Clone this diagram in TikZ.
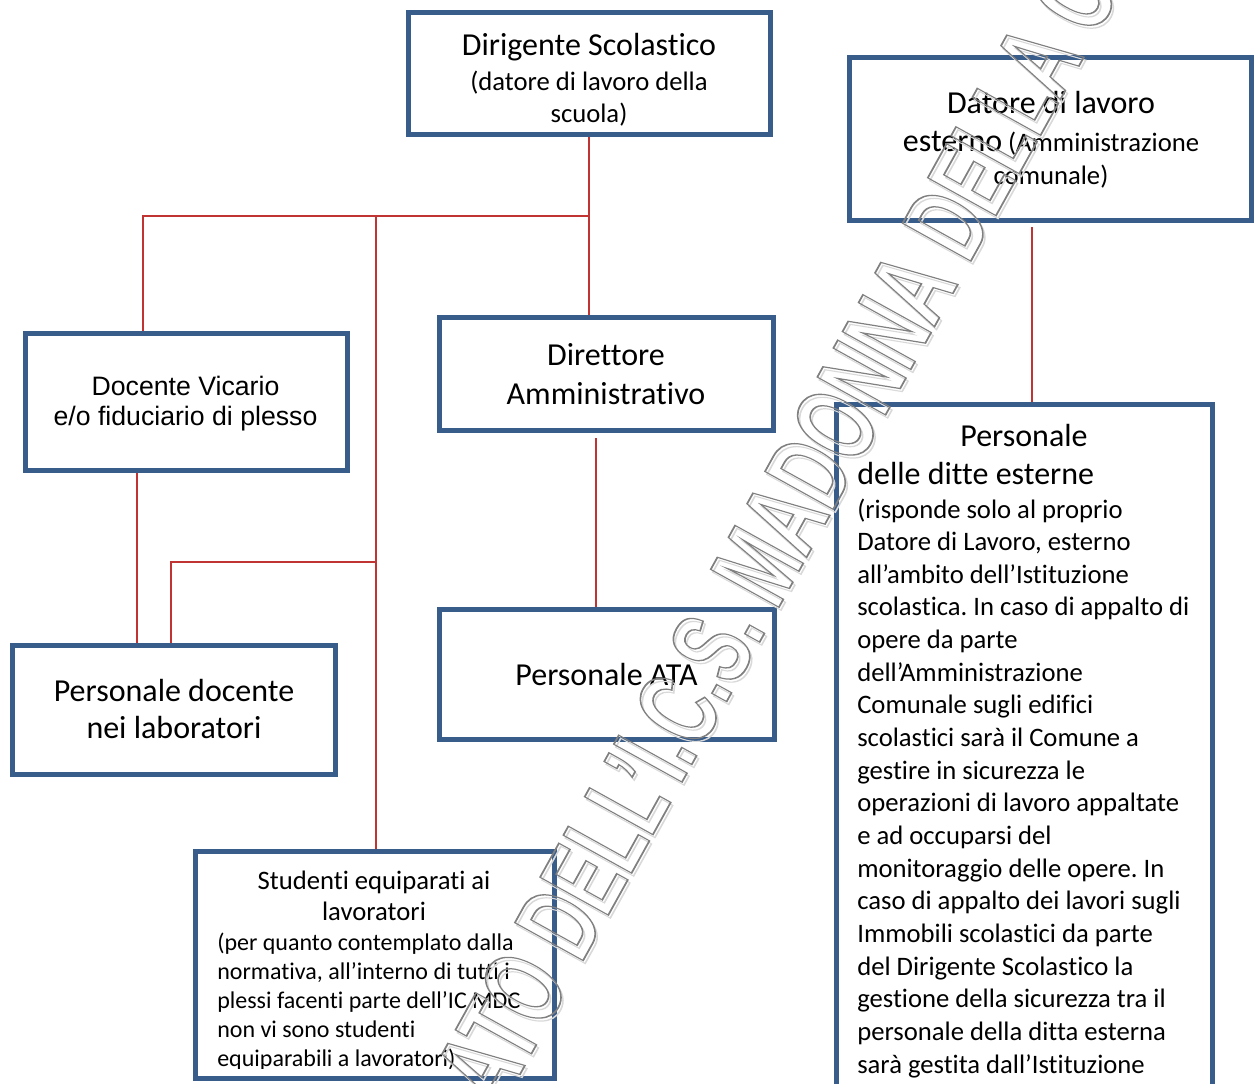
\documentclass[tikz,border=0pt]{standalone}
\usepackage{fontspec}
\setmainfont{Carlito}[Ligatures=CommonOff]
\newfontfamily\arialf{Liberation Sans}
\usepackage{graphicx}
\usetikzlibrary{backgrounds}
\definecolor{boxblue}{RGB}{56,93,138}
\definecolor{linered}{RGB}{192,52,52}
\frenchspacing
\begin{document}
\begin{tikzpicture}[x=0.75pt,y=-0.75pt,
  box/.style={draw=boxblue, line width=3.75pt, fill=white, rectangle, inner sep=0pt},
  conn/.style={draw=linered, line width=1.1pt},
  txt/.style={inner sep=0pt, anchor=base},
  big/.style={font=\fontsize{24}{29.25}\selectfont},
  wmark/.style={inner sep=0pt, rotate=61},
]
\useasboundingbox (0,0) rectangle (1255,1083);

% boxes
\node[box, minimum width=362*0.75pt, minimum height=122*0.75pt] (ds) at (589,73) {};
\node[box, minimum width=402*0.75pt, minimum height=163*0.75pt] (de) at (1050,138.5) {};
\node[box, minimum width=322*0.75pt, minimum height=137*0.75pt] (dv) at (186,401.5) {};
\node[box, minimum width=334*0.75pt, minimum height=113*0.75pt] (dir) at (606,373.5) {};
\node[box, minimum width=335*0.75pt, minimum height=130*0.75pt] (ata) at (606.5,674) {};
\node[box, minimum width=323*0.75pt, minimum height=129*0.75pt] (pd) at (173.5,709.5) {};
\node[box, minimum width=359*0.75pt, minimum height=227*0.75pt] (st) at (374.5,964.5) {};
\node[box, minimum width=376*0.75pt, minimum height=696*0.75pt] (pe) at (1024,752) {};

% connector coordinates
\coordinate (j1) at (589,216);
\coordinate (jL) at (143,216);
\coordinate (jM) at (376,216);
\coordinate (jS) at (376,562);
\coordinate (jS2) at (171,562);
\coordinate (dvb) at (137,470);
\coordinate (d1) at (596,438);
\coordinate (e1) at (1032,227);

\begin{scope}[on background layer]
\fill[white] (0,0) rectangle (1255,1083);
\draw[conn] (ds.south) -- (ds.south |- dir.north);
\draw[conn] (j1) -- (jL) -- (jL |- dv.north);
\draw[conn] (jM) -- (jM |- st.north);
\draw[conn] (dvb) -- (dvb |- pd.north);
\draw[conn] (jS) -- (jS2) -- (jS2 |- pd.north);
\draw[conn] (d1) -- (d1 |- ata.north);
\draw[conn] (e1) -- (e1 |- pe.north);
\end{scope}

% texts
\node[txt, text width=360*0.75pt, align=flush center, font=\fontsize{20}{24}\selectfont] (ds-t) at (589,55)
  {{\fontsize{24}{24}\selectfont Dirigente Scolastico}\\[2.25pt] (datore di lavoro della\\ scuola)};
\node[txt, text width=400*0.75pt, align=flush center, font=\fontsize{20}{25}\selectfont] (de-t) at (1051,113)
  {{\fontsize{24}{24}\selectfont Datore di lavoro}\\[3.8pt] {\fontsize{24}{24}\selectfont esterno} (Amministrazione\\ comunale)};
\node[txt, text width=320*0.75pt, align=flush center, font=\arialf\fontsize{20}{22.5}\selectfont] (dv-t) at (185.5,395)
  {Docente Vicario\\e/o fiduciario di plesso};
\node[txt, big, text width=330*0.75pt, align=flush center] (dir-t) at (606,365) {Direttore\\Amministrativo};
\node[txt, big, text width=330*0.75pt, align=flush center] (ata-t) at (606.5,685) {Personale ATA};
\node[txt, text width=320*0.75pt, align=flush center, font=\fontsize{24}{27.5}\selectfont] (pd-t) at (174,701.7)
  {Personale docente\\nei laboratori};
\node[txt, text width=350*0.75pt, align=flush center, font=\fontsize{20}{23.25}\selectfont] (st-t) at (374,889)
  {Studenti equiparati ai\\lavoratori};
\begin{scope}
\clip (195,851) rectangle (554,1068);
\node[txt, anchor=base west, text width=336*0.75pt, align=flush left, font=\fontsize{18}{21.9}\selectfont] (st-b) at (217,950)
  {(per quanto contemplato dalla\\normativa, all’interno di tutti i\\plessi facenti parte dell’IC MDC\\non vi sono studenti\\equiparabili a lavoratori)};
\end{scope}
\node[txt, big] (pe-t) at (1024,446) {Personale};
\node[txt, big, anchor=base west] (pe-s) at (857,484) {delle ditte esterne};
\node[txt, anchor=base west, text width=352*0.75pt, align=flush left, font=\fontsize{20}{24.49}\selectfont] (pe-b) at (857,518)
  {(risponde solo al proprio\\Datore di Lavoro, esterno\\all’ambito dell’Istituzione\\scolastica. In caso di appalto di\\opere da parte\\dell’Amministrazione\\Comunale sugli edifici\\scolastici sarà il Comune a\\gestire in sicurezza le\\operazioni di lavoro appaltate\\e ad occuparsi del\\monitoraggio delle opere. In\\caso di appalto dei lavori sugli\\Immobili scolastici da parte\\del Dirigente Scolastico la\\gestione della sicurezza tra il\\personale della ditta esterna\\sarà gestita dall’Istituzione};

% watermark (outlined text) with faint shadow
\node[wmark] (wms) at (778,535)
  {\special{pdf:literal direct 1 Tr 1.2 w 0.85 G}\scalebox{0.635}[1]{\arialf\bfseries\fontsize{85}{85}\selectfont ATO DELL’I.C.S. MADONNA DELLA C}\special{pdf:literal direct 0 Tr 0 G}};
\node[wmark] (wm) at (776,532)
  {\special{pdf:literal direct 1 Tr 1.3 w 0.5 G}\scalebox{0.635}[1]{\arialf\bfseries\fontsize{85}{85}\selectfont ATO DELL’I.C.S. MADONNA DELLA C}\special{pdf:literal direct 0 Tr 0 G}};
\end{tikzpicture}
\end{document}
